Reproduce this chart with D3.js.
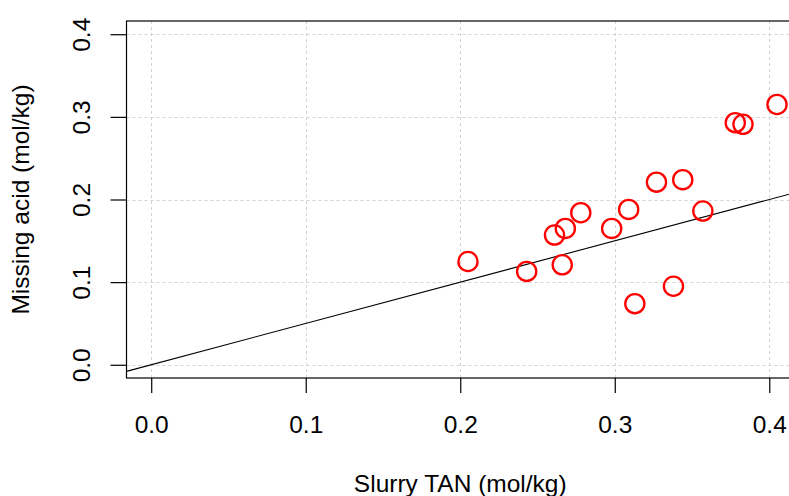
<!DOCTYPE html>
<html>
<head>
<meta charset="utf-8">
<script src="https://cdn.jsdelivr.net/npm/d3@7"></script>
<style>
  html, body { margin: 0; padding: 0; background: #fff; }
  svg { display: block; }
  text { font-family: "Liberation Sans", Arial, sans-serif; fill: #000; }
</style>
</head>
<body>
<script>
// Slurry TAN vs missing acid (mol/kg)
const slurryTAN = [0.205, 0.243, 0.266, 0.261, 0.268, 0.278, 0.298, 0.309,
                   0.327, 0.344, 0.357, 0.313, 0.338, 0.378, 0.383, 0.405];
const missingAcid = [0.125, 0.113, 0.121, 0.157, 0.165, 0.184, 0.165, 0.188,
                     0.221, 0.224, 0.186, 0.074, 0.095, 0.293, 0.291, 0.315];
const xTicks = [0.0, 0.1, 0.2, 0.3, 0.4];
const yTicks = [0.0, 0.1, 0.2, 0.3, 0.4];
const refLine = { intercept: 0, slope: 0.5 };
const xLabel = "Slurry TAN (mol/kg)";
const yLabel = "Missing acid (mol/kg)";

const W = 789, H = 496;
const plot = { left: 126.5, right: 794, top: 21, bottom: 378 };

// axis limits 0..0.4 with the usual 4% padding
const pad = 0.04 * 0.4;
const x = d3.scaleLinear().domain([0 - pad, 0.4 + pad]).range([plot.left, plot.right]);
const y = d3.scaleLinear().domain([0 - pad, 0.4 + pad]).range([plot.bottom, plot.top]);

const svg = d3.select("body").append("svg").attr("width", W).attr("height", H);

const clip = svg.append("clipPath").attr("id", "plotclip")
  .append("rect")
  .attr("x", plot.left).attr("y", plot.top)
  .attr("width", plot.right - plot.left).attr("height", plot.bottom - plot.top);

// dotted grid
const grid = svg.append("g").attr("stroke", "#d3d3d3").attr("stroke-width", 1)
  .attr("stroke-dasharray", "3,3");
grid.selectAll("line.v").data(xTicks).join("line").attr("class", "v")
  .attr("x1", d => Math.round(x(d)) + 0.5).attr("x2", d => Math.round(x(d)) + 0.5)
  .attr("y1", plot.top).attr("y2", plot.bottom);
grid.selectAll("line.h").data(yTicks).join("line").attr("class", "h")
  .attr("y1", d => Math.round(y(d)) + 0.5).attr("y2", d => Math.round(y(d)) + 0.5)
  .attr("x1", plot.left).attr("x2", plot.right);

// reference line y = 0.5 x
const lx = x.domain();
svg.append("line")
  .attr("clip-path", "url(#plotclip)")
  .attr("x1", x(lx[0])).attr("y1", y(refLine.intercept + refLine.slope * lx[0]))
  .attr("x2", x(lx[1])).attr("y2", y(refLine.intercept + refLine.slope * lx[1]))
  .attr("stroke", "#000").attr("stroke-width", 1.1);

// points
const pts = slurryTAN.map((v, i) => ({ x: v, y: missingAcid[i] }));
svg.append("g").selectAll("circle").data(pts).join("circle")
  .attr("cx", d => x(d.x)).attr("cy", d => y(d.y)).attr("r", 9.6)
  .attr("fill", "none").attr("stroke", "#ff0000").attr("stroke-width", 2.3);

// frame
svg.append("rect")
  .attr("x", plot.left).attr("y", plot.top)
  .attr("width", plot.right - plot.left).attr("height", plot.bottom - plot.top)
  .attr("fill", "none").attr("stroke", "#000").attr("stroke-width", 1.2);

// bottom axis
const xAxis = d3.axisBottom(x).tickValues(xTicks).tickFormat(d3.format(".1f"))
  .tickSize(15).tickPadding(24);
const gx = svg.append("g").attr("transform", `translate(0,${plot.bottom})`).call(xAxis);
gx.select(".domain").remove();
gx.selectAll(".tick line").attr("stroke", "#000").attr("stroke-width", 1.2);
gx.selectAll(".tick text").attr("font-size", 24.5).attr("dy", null)
  .attr("y", 55).attr("font-family", "Liberation Sans, Arial, sans-serif");

// left axis
const yAxis = d3.axisLeft(y).tickValues(yTicks).tickFormat(d3.format(".1f")).tickSize(16);
const gy = svg.append("g").attr("transform", `translate(${plot.left},0)`).call(yAxis);
gy.select(".domain").remove();
gy.selectAll(".tick line").attr("stroke", "#000").attr("stroke-width", 1.2);
gy.selectAll(".tick text")
  .attr("font-size", 24.5).attr("font-family", "Liberation Sans, Arial, sans-serif")
  .attr("x", null).attr("dy", null).attr("text-anchor", "middle")
  .attr("transform", `translate(${90 - plot.left},0) rotate(-90)`);

// axis titles
svg.append("text")
  .attr("x", (plot.left + plot.right) / 2).attr("y", 492)
  .attr("text-anchor", "middle").attr("font-size", 24.5).text(xLabel);
svg.append("text")
  .attr("transform", `translate(29,${(plot.top + plot.bottom) / 2}) rotate(-90)`)
  .attr("text-anchor", "middle").attr("font-size", 24.5).text(yLabel);
</script>
</body>
</html>
